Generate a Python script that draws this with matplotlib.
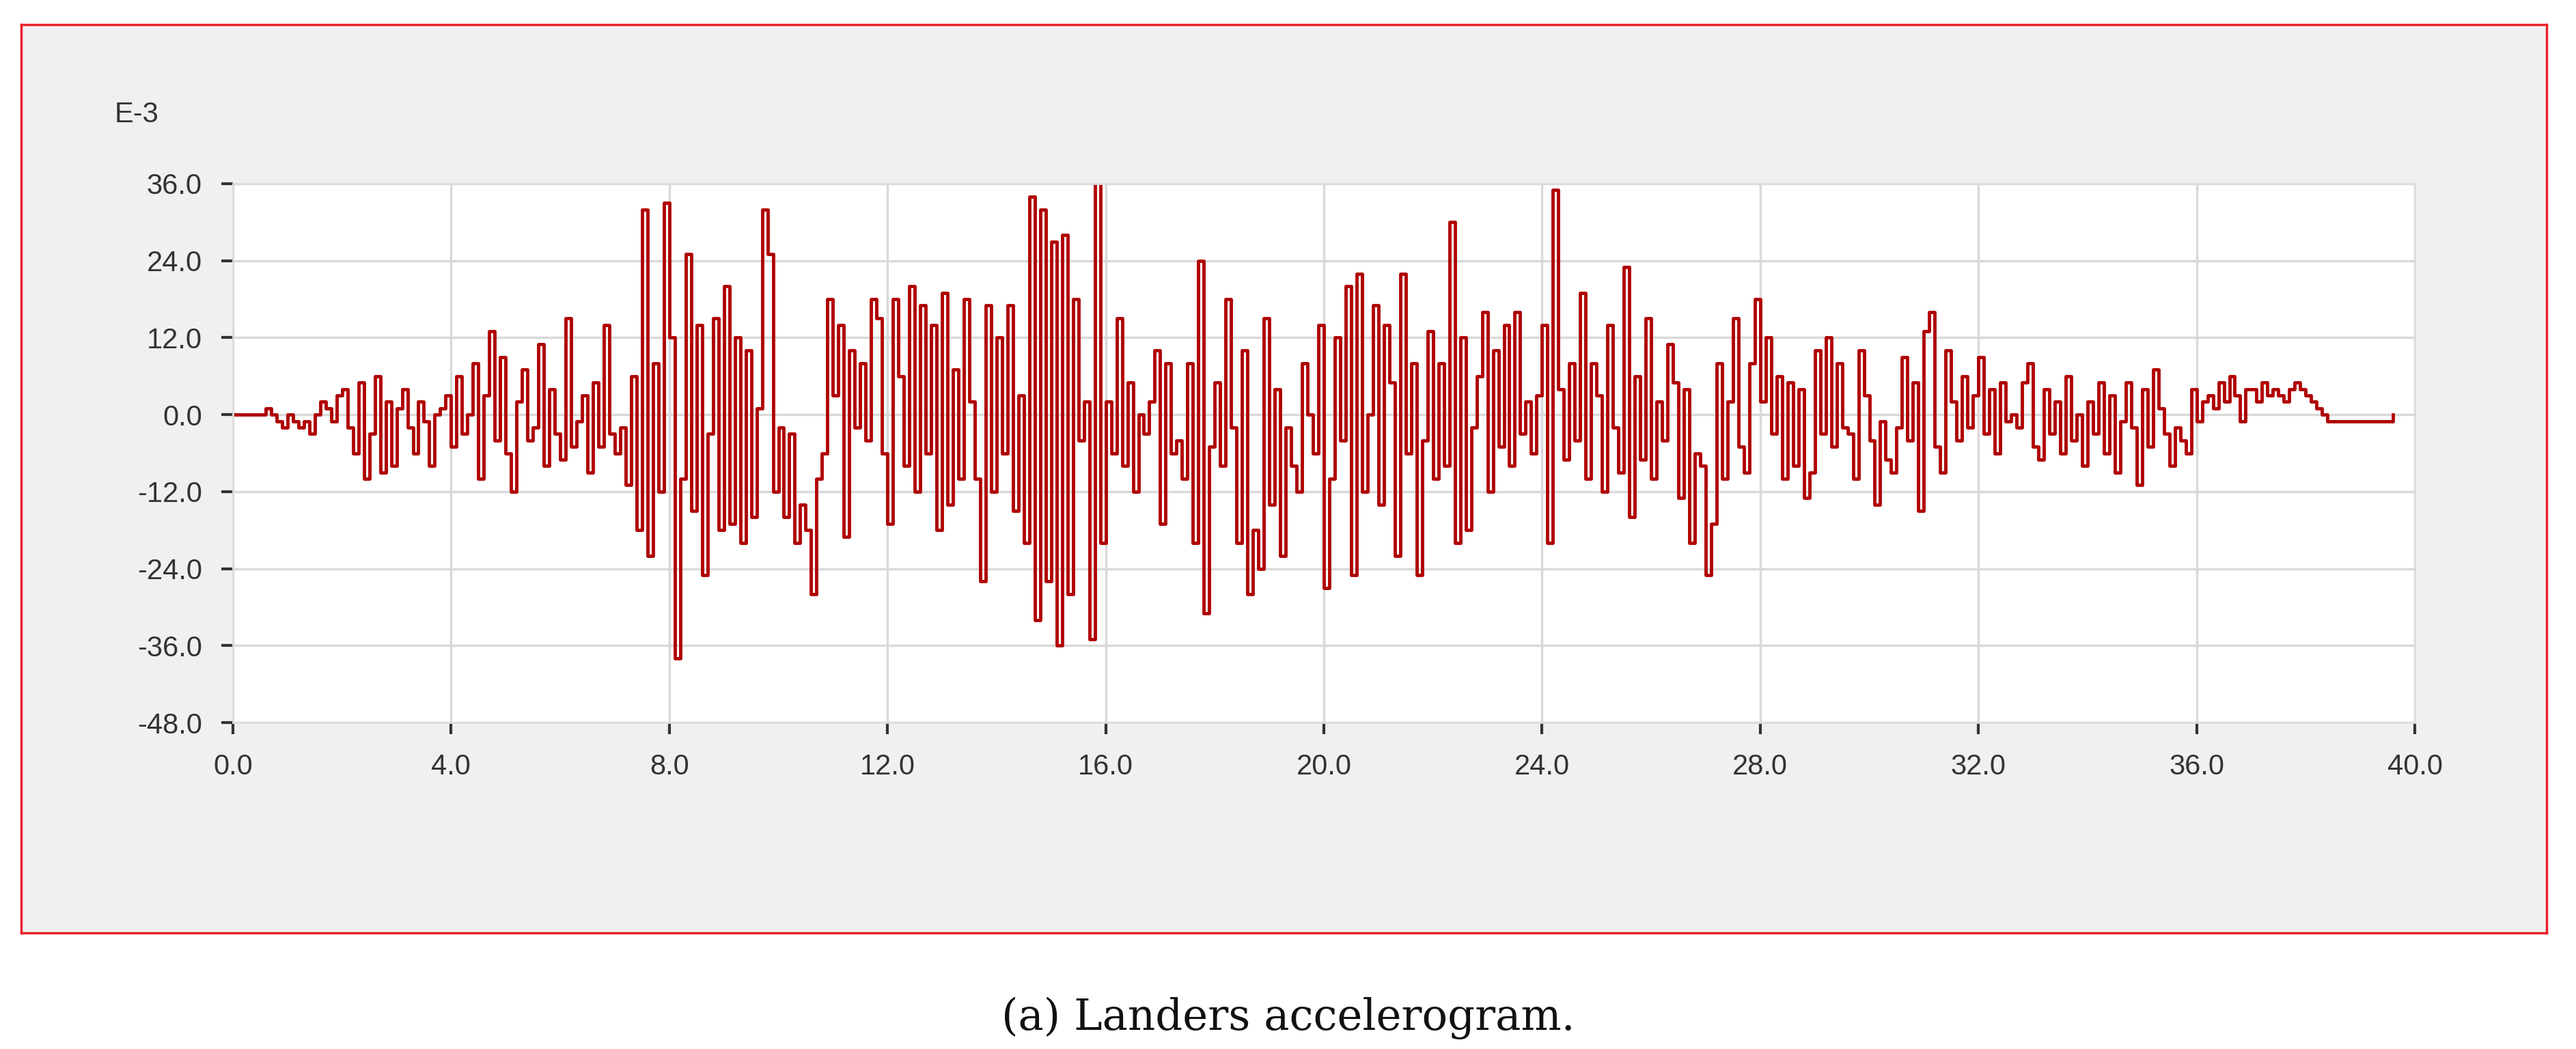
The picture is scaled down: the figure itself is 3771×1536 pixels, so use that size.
import matplotlib
matplotlib.use("Agg")
import matplotlib.pyplot as plt
import numpy as np

# ---------------------------------------------------------------
#  DATA  (acceleration in E-3 units, sampled every 0.1 s)
# ---------------------------------------------------------------
dt = 0.1
accel = [
    0, 0, 0, 0, 0, 0, 1, 0, -1, -2,
    0, -1, -2, -1, -3, 0, 2, 1, -1, 3,
    4, -2, -6, 5, -10, -3, 6, -9, 2, -8,
    1, 4, -2, -6, 2, -1, -8, 0, 1, 3,
    -5, 6, -3, 0, 8, -10, 3, 13, -4, 9,
    -6, -12, 2, 7, -4, -2, 11, -8, 4, -3,
    -7, 15, -5, -1, 3, -9, 5, -5, 14, -3,
    -6, -2, -11, 6, -18, 32, -22, 8, -12, 33,
    12, -38, -10, 25, -15, 14, -25, -3, 15, -18,
    20, -17, 12, -20, 10, -16, 1, 32, 25, -12,
    -2, -16, -3, -20, -14, -18, -28, -10, -6, 18,
    3, 14, -19, 10, -2, 8, -4, 18, 15, -6,
    -17, 18, 6, -8, 20, -12, 17, -6, 14, -18,
    19, -14, 7, -10, 18, 2, -10, -26, 17, -12,
    12, -6, 17, -15, 3, -20, 34, -32, 32, -26,
    27, -36, 28, -28, 18, -4, 2, -35, 37, -20,
    2, -6, 15, -8, 5, -12, 0, -3, 2, 10,
    -17, 8, -6, -4, -10, 8, -20, 24, -31, -5,
    5, -8, 18, -2, -20, 10, -28, -18, -24, 15,
    -14, 4, -22, -2, -8, -12, 8, 0, -6, 14,
    -27, -10, 12, -4, 20, -25, 22, -12, 0, 17,
    -14, 14, 5, -22, 22, -6, 8, -25, -4, 13,
    -10, 8, -8, 30, -20, 12, -18, -2, 6, 16,
    -12, 10, -5, 14, -8, 16, -3, 2, -6, 3,
    14, -20, 35, 4, -7, 8, -4, 19, -10, 8,
    3, -12, 14, -2, -9, 23, -16, 6, -7, 15,
    -10, 2, -4, 11, 5, -13, 4, -20, -6, -8,
    -25, -17, 8, -10, 2, 15, -5, -9, 8, 18,
    2, 12, -3, 6, -10, 5, -8, 4, -13, -9,
    10, -3, 12, -5, 8, -2, -3, -10, 10, 3,
    -4, -14, -1, -7, -9, -2, 9, -4, 5, -15,
    13, 16, -5, -9, 10, 2, -4, 6, -2, 3,
    9, -3, 4, -6, 5, -1, 0, -2, 5, 8,
    -5, -7, 4, -3, 2, -6, 6, -4, 0, -8,
    2, -3, 5, -6, 3, -9, -1, 5, -2, -11,
    4, -5, 7, 1, -3, -8, -2, -4, -6, 4,
    -1, 2, 3, 1, 5, 2, 6, 3, -1, 4,
    4, 2, 5, 3, 4, 3, 2, 4, 5, 4,
    3, 2, 1, 0, -1, -1, -1, -1, -1, -1,
    -1, -1, -1, -1, -1, -1, 0,
]
time = np.arange(len(accel)) * dt

x_ticks = [0, 4, 8, 12, 16, 20, 24, 28, 32, 36, 40]
y_ticks = [-48, -36, -24, -12, 0, 12, 24, 36]

# ---------------------------------------------------------------
#  PLOT
# ---------------------------------------------------------------
W, H, DPI = 3771, 1536, 250
fig = plt.figure(figsize=(W / DPI, H / DPI), dpi=DPI)
fig.patch.set_facecolor("white")

# grey panel with red frame, as a background axes
bg = fig.add_axes([31 / W, 1 - 1366 / H, (3728 - 31) / W, (1366 - 36) / H], zorder=0)
bg.set_facecolor("#f0f0f0")
bg.set_xticks([])
bg.set_yticks([])
for s in bg.spines.values():
    s.set_color("#e8202a")
    s.set_linewidth(1.0)

ax = fig.add_axes([341 / W, 1 - 1058 / H, (3535 - 341) / W, (1058 - 269) / H], zorder=1)
ax.set_facecolor("white")
ax.step(time, accel, where="post", color="#b00000", linewidth=1.4)

ax.set_xlim(0, 40)
ax.set_ylim(-48, 36)
ax.set_xticks(x_ticks)
ax.set_yticks(y_ticks)
ax.set_xticklabels([f"{v:.1f}" for v in x_ticks])
ax.set_yticklabels([f"{v:.1f}" for v in y_ticks])
ax.grid(True, color="#d9d9d9", linewidth=1.0)
ax.set_axisbelow(True)
for s in ax.spines.values():
    s.set_color("#dcdcdc")
ax.tick_params(colors="#333333", labelsize=12, length=5, width=1.2,
               labelcolor="#333333", pad=8)
for lab in ax.get_xticklabels() + ax.get_yticklabels():
    lab.set_family("Liberation Sans")

fig.text(200 / W, 1 - 168 / H, "E-3", fontsize=12, color="#333333",
         family="Liberation Sans", ha="center", va="center")

fig.text(0.5, 1 - 1491 / H, "(a) Landers accelerogram.", fontsize=18,
         family="DejaVu Serif", ha="center", va="center", color="#111111")

fig.savefig("out.png", dpi=DPI)
